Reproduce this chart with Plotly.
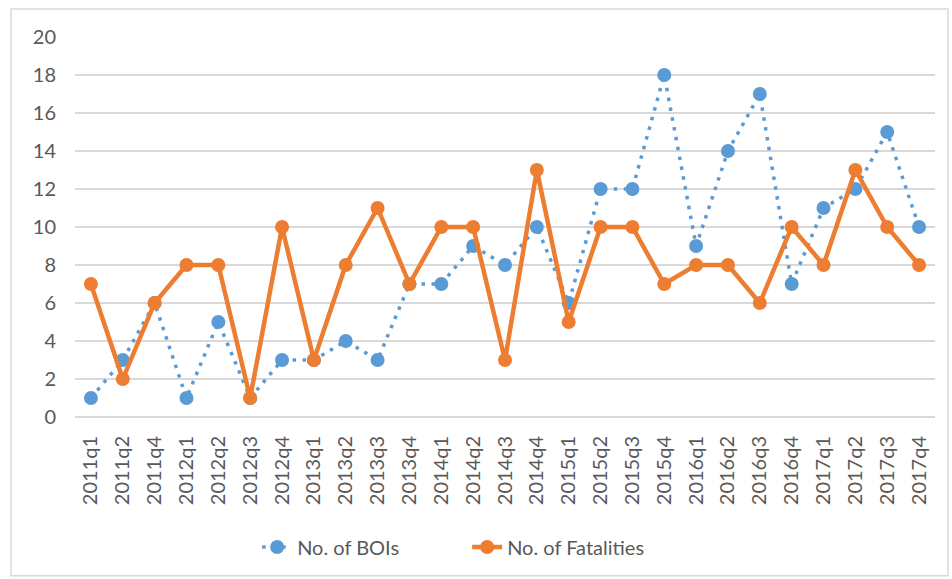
import plotly.graph_objects as go

quarters = ["2011q1", "2011q2", "2011q4", "2012q1", "2012q2", "2012q3", "2012q4",
            "2013q1", "2013q2", "2013q3", "2013q4", "2014q1", "2014q2", "2014q3",
            "2014q4", "2015q1", "2015q2", "2015q3", "2015q4", "2016q1", "2016q2",
            "2016q3", "2016q4", "2017q1", "2017q2", "2017q3", "2017q4"]
bois = [1, 3, 6, 1, 5, 1, 3, 3, 4, 3, 7, 7, 9, 8, 10, 6, 12, 12, 18, 9, 14, 17, 7, 11, 12, 15, 10]
fatalities = [7, 2, 6, 8, 8, 1, 10, 3, 8, 11, 7, 10, 10, 3, 13, 5, 10, 10, 7, 8, 8, 6, 10, 8, 13, 10, 8]

blue = "#5B9BD5"
orange = "#ED7D31"
grid = "#D9D9D9"
txt = "#595959"

fig = go.Figure()
fig.add_trace(go.Scatter(x=quarters, y=bois, name="No. of BOIs", mode="lines+markers",
                         line=dict(color=blue, width=3.5, dash="3.5px,6.5px"),
                         marker=dict(color=blue, size=14)))
fig.add_trace(go.Scatter(x=quarters, y=fatalities, name="No. of Fatalities", mode="lines+markers",
                         line=dict(color=orange, width=4.5),
                         marker=dict(color=orange, size=14)))

fig.update_layout(
    width=952, height=579,
    margin=dict(l=75, r=17, t=37, b=162, autoexpand=False),
    paper_bgcolor="white", plot_bgcolor="white",
    font=dict(family="Lato", size=20, color=txt),
    legend=dict(orientation="h", x=0.456, xanchor="center", y=-0.342, yanchor="middle",
                entrywidth=165, font=dict(size=20, color=txt)),
    shapes=[dict(type="rect", xref="paper", yref="paper",
                 x0=-0.0744, x1=1.0151, y0=-0.418, y1=1.0737,
                 line=dict(color=grid, width=1.5), layer="below")],
)
fig.update_xaxes(tickangle=-90, showgrid=False, showline=False, ticks="outside",
                 ticklen=10, tickcolor="white", automargin=False,
                 range=[-0.5, len(quarters) - 0.5],
                 tickfont=dict(size=20, color=txt))
fig.update_yaxes(range=[0, 20], dtick=2, showgrid=True, gridcolor=grid, gridwidth=1.5,
                 zeroline=True, zerolinecolor=grid, zerolinewidth=1.5,
                 ticks="outside", ticklen=14, tickcolor="white", automargin=False,
                 tickfont=dict(size=20, color=txt))

fig.write_html("out.html", config={"displayModeBar": False},
               post_script="document.body.style.margin='0px';")
